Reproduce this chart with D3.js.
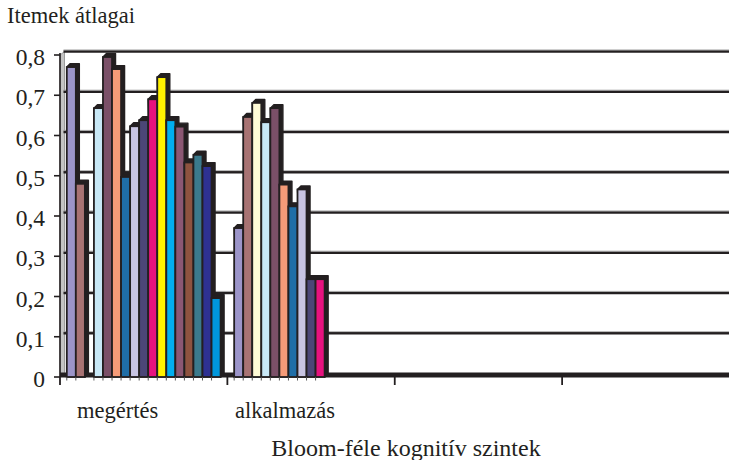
<!DOCTYPE html>
<html>
<head>
<meta charset="utf-8">
<script src="https://cdn.jsdelivr.net/npm/d3@7"></script>
<style>
  body { margin: 0; background: #fff; }
  svg { display: block; }
  text { font-family: "Liberation Serif", "Times New Roman", serif; fill: #231f20; }
</style>
</head>
<body>
<svg id="chart" width="729" height="460"></svg>
<script>
// categories on the x axis (last two are empty levels)
const categories = ["megértés", "alkalmazás", "", ""];
// one colour per item (series)
const seriesColors = [
    "#9c95c9", "#a87373", "#fffbd6", "#c8e8f6", "#7b5068", "#f59b78",
    "#1f6ea7", "#c8c4e2", "#4b4677", "#e7127f", "#fff200", "#00aeef",
    "#8b5773", "#8e533f", "#3b7a8c", "#2e3192", "#0097dc"
];
// item means per category (null = no bar)
const megertes = [0.77, 0.48, null, 0.668, 0.795, 0.765, 0.497, 0.623, 0.638,
    0.69, 0.745, 0.638, 0.622, 0.533, 0.552, 0.524, 0.196];
const alkalmazas = [0.37, 0.646, 0.681, 0.633, 0.668, 0.478, 0.424, 0.466,
    0.243, 0.243, null, null, null, null, null, null, null];
const values = [megertes, alkalmazas, [], []];
const yTicks = [0, 0.1, 0.2, 0.3, 0.4, 0.5, 0.6, 0.7, 0.8];

const dark = "#231f20";
const depth = 3.5; // 3d offset of the back wall

const svg = d3.select("#chart");

//scales
const x = d3.scaleBand()
    .domain(d3.range(categories.length))
    .range([60, 729.5])
    .padding(0);

const xs = d3.scaleBand()
    .domain(d3.range(seriesColors.length))
    .range([0, x.bandwidth()])
    .paddingInner(0)
    .paddingOuter(0.75);

const y = d3.scaleLinear()
    .domain([0, 0.8])
    .range([377, 55]);

//left wall (grey)
svg.append("path")
    .attr("d", `M60,${y(0)} L${60 + depth + 1},${y(0) - depth} L${60 + depth + 1},${y(0.8) - depth} L60,${y(0.8)} Z`)
    .attr("fill", "#c4c4c4")
    .attr("stroke", "#8a8a8a")
    .attr("stroke-width", 0.8);

//gridlines on back wall
svg.append("g")
    .selectAll("line")
    .data(yTicks.filter(d => d > 0))
    .join("line")
    .attr("x1", 60 + depth)
    .attr("x2", 729)
    .attr("y1", d => y(d) - depth)
    .attr("y2", d => y(d) - depth)
    .attr("stroke", dark)
    .attr("stroke-width", 2.6);

svg.append("g")
    .selectAll("line")
    .data(yTicks.filter(d => d > 0))
    .join("line")
    .attr("x1", 60 + depth)
    .attr("x2", 729)
    .attr("y1", d => y(d) - depth - 1.6)
    .attr("y2", d => y(d) - depth - 1.6)
    .attr("stroke", "#9a9a9a")
    .attr("stroke-width", 0.8);

//floor
svg.append("rect")
    .attr("x", 60)
    .attr("y", y(0) - 4.5)
    .attr("width", 729 - 60)
    .attr("height", 5)
    .attr("fill", dark);

//bars with 3d look (top + side faces)
const bars = [];
values.forEach((arr, ci) => {
    arr.forEach((v, si) => {
        if (v == null) return;
        bars.push({ ci, si, v });
    });
});

const barG = svg.append("g");
bars.forEach(b => {
    const x0 = x(b.ci) + xs(b.si);
    const x1 = x0 + xs.bandwidth();
    const yt = y(b.v);
    const y0 = y(0);
    const g = barG.append("g");
    g.append("path")
        .attr("d", `M${x0},${yt} L${x0 + depth},${yt - depth} L${x1 + depth},${yt - depth} L${x1 + depth},${y0 - depth} L${x1},${y0} Z`)
        .attr("fill", dark)
        .attr("stroke", dark)
        .attr("stroke-width", 1.4)
        .attr("stroke-linejoin", "round");
    g.append("rect")
        .attr("x", x0)
        .attr("y", yt)
        .attr("width", x1 - x0)
        .attr("height", y0 - yt)
        .attr("fill", seriesColors[b.si])
        .attr("stroke", dark)
        .attr("stroke-width", 1.8);
    //small mark under the bar edge
    g.append("line")
        .attr("x1", x0).attr("x2", x0)
        .attr("y1", y0).attr("y2", y0 + 3.5)
        .attr("stroke", "#555")
        .attr("stroke-width", 1);
});

//y axis
svg.append("line")
    .attr("x1", 60).attr("x2", 60)
    .attr("y1", y(0.8) - 2).attr("y2", y(0))
    .attr("stroke", dark)
    .attr("stroke-width", 1.6);

const yAxis = svg.append("g");
yAxis.selectAll("line")
    .data(yTicks)
    .join("line")
    .attr("x1", 54).attr("x2", 60)
    .attr("y1", d => y(d)).attr("y2", d => y(d))
    .attr("stroke", dark)
    .attr("stroke-width", 1.6);

yAxis.selectAll("text")
    .data(yTicks)
    .join("text")
    .attr("x", 45)
    .attr("y", d => y(d) + 10)
    .attr("text-anchor", "end")
    .style("font-size", "23.5px")
    .text(d => d === 0 ? "0" : d3.format(".1f")(d).replace(".", ","));

//x axis ticks at category boundaries
svg.append("g")
    .selectAll("line")
    .data(d3.range(categories.length))
    .join("line")
    .attr("x1", d => x(d)).attr("x2", d => x(d))
    .attr("y1", y(0)).attr("y2", y(0) + 8)
    .attr("stroke", dark)
    .attr("stroke-width", 1.8);

//category labels
svg.append("g")
    .selectAll("text")
    .data(categories)
    .join("text")
    .attr("x", (d, i) => x(i) + x.bandwidth() / 2 - 26)
    .attr("y", 418)
    .attr("text-anchor", "middle")
    .style("font-size", "22.5px")
    .text(d => d);

//titles
svg.append("text")
    .attr("x", 7)
    .attr("y", 23)
    .style("font-size", "22.5px")
    .text("Itemek átlagai");

svg.append("text")
    .attr("x", 406)
    .attr("y", 456)
    .attr("text-anchor", "middle")
    .style("font-size", "24px")
    .text("Bloom-féle kognitív szintek");
</script>
</body>
</html>
